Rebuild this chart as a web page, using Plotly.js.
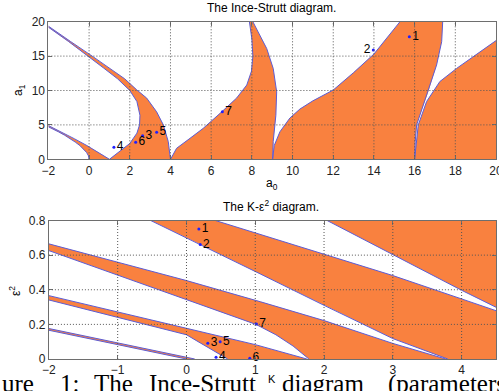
<!DOCTYPE html>
<html>
<head>
<meta charset="utf-8">
<script src="https://cdn.plot.ly/plotly-3.0.1.min.js"></script>
<style>html,body{margin:0;padding:0;background:#fff;}#chart{width:499px;height:391px;}</style>
</head>
<body>
<div id="chart"></div>
<script>
// ---------- TOP: Ince-Strutt diagram (a0 horizontal, a1 vertical) ----------
const topXRange = [-2, 20];
const topYRange = [0, 20];
const topXTicks = [-2, 0, 2, 4, 6, 8, 10, 12, 14, 16, 18, 20];
const topYTicks = [0, 5, 10, 15, 20];

const a0_a = [0, -0.03, -0.125, -0.28, -0.455, -0.68, -0.93, -1.2, -1.51, -1.85, -2.0];
const a0_y = [0, 0.5, 1, 1.5, 2, 2.5, 3, 3.5, 4, 4.5, 4.72];
const b1_a = [1, 0.47, -0.11, -0.73, -1.39, -1.73, -2.0];
const b1_y = [0, 1, 2, 3, 4, 4.5, 4.9];
const a1_a = [1, 1.5, 2.0, 2.35, 2.48, 2.5, 2.35, 2.0, 1.4, 0.7, 0, -1, -2];
const a1_y = [0, 1.1, 2.3, 3.8, 5, 6.4, 8.4, 10.0, 11.7, 13.3, 14.9, 17.1, 19.2];
const b2_a = [4, 3.95, 3.89, 3.65, 3.32, 2.83, 2.34, 1.75, 1.0, 0.2, -0.9, -2];
const b2_y = [0, 1.3, 2.6, 5.0, 6.9, 8.9, 10.1, 11.7, 13.3, 14.9, 17.1, 19.35];
const a2_a = [4, 4.3, 4.96, 5.61, 6.52, 7.25, 7.75, 7.98, 8.05, 8.0, 7.88];
const a2_y = [0, 1.6, 3.05, 4.5, 6.9, 8.9, 10.8, 12.8, 15, 17.5, 20];
const b3_a = [9.02, 9.05, 9.18, 9.22, 9.05, 8.73, 8.31, 8.05];
const b3_y = [0, 2.6, 6.4, 9.8, 13.2, 16.1, 18.5, 20];
const a3_a = [9.02, 9.1, 9.38, 9.87, 10.36, 11.0, 12.0, 13.0, 14.0, 14.65, 15.28];
const a3_y = [0, 2.0, 4.0, 6.0, 7.3, 8.5, 10.07, 12.6, 15.3, 17.6, 20];
const b4_a = [16.0, 16.03, 16.1, 16.26, 16.67, 17.08, 17.33, 17.38];
const b4_y = [0, 2.6, 5.0, 6.4, 9.8, 13.7, 17.1, 20];
const a4_a = [16.0, 16.08, 16.18, 16.59, 17.24, 18.06, 19.05, 20.0];
const a4_y = [0, 2.5, 5.0, 8.4, 11.3, 13.2, 15.2, 17.25];

const topMkX = [15.74, 13.97, 2.63, 1.22, 3.32, 2.29, 6.55];
const topMkY = [17.8, 15.9, 3.43, 1.74, 3.92, 2.47, 6.92];
const topMkLbl = ['1', '2', '3', '4', '5', '6', '7'];
const topMkPos = ['middle right', 'middle left', 'middle right', 'middle right', 'middle right', 'middle right', 'middle right'];

// ---------- BOTTOM: K - eps^2 diagram ----------
const botXRange = [-2, 4.5];
const botYRange = [0, 0.8];
const botXTicks = [-2, -1, 0, 1, 2, 3, 4];
const botYTicks = [0, 0.2, 0.4, 0.6, 0.8];

const La0_k = [-2, 0.0];            const La0_e = [0.166, 0];
const Lb1_k = [-2, 0.12];           const Lb1_e = [0.176, 0];
const L7_k = [-2, -1, 0, 0.2, 0.4, 0.6];  const L7_e = [0.341, 0.242, 0.14, 0.093, 0.047, 0];
const L6_k = [-2, -1, 0, 1, 1.75];        const L6_e = [0.366, 0.271, 0.177, 0.083, 0];
const L5_k = [-2, -1, 0, 0.5, 1.01, 1.3, 1.55, 1.78]; const L5_e = [0.626, 0.486, 0.345, 0.275, 0.2, 0.14, 0.075, 0];
const L4_k = [-2, -1, 0, 1.08, 2, 3, 3.77]; const L4_e = [0.665, 0.559, 0.453, 0.33, 0.222, 0.09, 0];
const L3_k = [-0.52, 0.19, 1.08, 2, 3, 3.8]; const L3_e = [0.8, 0.664, 0.49, 0.31, 0.118, 0];
const L2_k = [0.42, 1, 2, 3, 4, 4.5];     const L2_e = [0.8, 0.729, 0.605, 0.482, 0.347, 0.279];
const L1_k = [2.045, 3, 4, 4.5];          const L1_e = [0.8, 0.602, 0.397, 0.299];

const botMkX = [0.18, 0.2, 0.31, 0.43, 0.49, 0.92, 1.017];
const botMkY = [0.751, 0.661, 0.091, 0.01, 0.1, 0.004, 0.202];
const botMkLbl = ['1', '2', '3', '4', '5', '6', '7'];

// ---------- styling ----------
const ORANGE = '#F9813F';
const EDGE = '#5c5cd4';
const rev = arr => arr.slice().reverse();

function fillTrace(xs, ys, xa, ya) {
  return {type: 'scatter', mode: 'lines', x: xs, y: ys, xaxis: xa, yaxis: ya,
          fill: 'toself', fillcolor: ORANGE, line: {width: 0, color: ORANGE},
          hoverinfo: 'skip', showlegend: false};
}
function lineTrace(xs, ys, xa, ya) {
  return {type: 'scatter', mode: 'lines', x: xs, y: ys, xaxis: xa, yaxis: ya,
          line: {width: 1, color: EDGE}, hoverinfo: 'skip', showlegend: false};
}

const traces = [];
traces.push(fillTrace(a0_a.concat(rev(b1_a)), a0_y.concat(rev(b1_y)), 'x', 'y'));
traces.push(fillTrace(a1_a.concat(rev(b2_a)), a1_y.concat(rev(b2_y)), 'x', 'y'));
traces.push(fillTrace(a2_a.concat(rev(b3_a)), a2_y.concat(rev(b3_y)), 'x', 'y'));
traces.push(fillTrace(a3_a.concat(rev(b4_a)), a3_y.concat(rev(b4_y)), 'x', 'y'));
traces.push(fillTrace(a4_a.concat([topXRange[1]]), a4_y.concat([topYRange[0]]), 'x', 'y'));
[[a0_a,a0_y],[b1_a,b1_y],[a1_a,a1_y],[b2_a,b2_y],[a2_a,a2_y],[b3_a,b3_y],[a3_a,a3_y],[b4_a,b4_y],[a4_a,a4_y]]
  .forEach(p => traces.push(lineTrace(p[0], p[1], 'x', 'y')));
traces.push(fillTrace(La0_k.concat(rev(Lb1_k)), La0_e.concat(rev(Lb1_e)), 'x2', 'y2'));
traces.push(fillTrace(L7_k.concat(rev(L6_k)), L7_e.concat(rev(L6_e)), 'x2', 'y2'));
traces.push(fillTrace(L5_k.concat(rev(L4_k)), L5_e.concat(rev(L4_e)), 'x2', 'y2'));
traces.push(fillTrace(L2_k.concat([botXRange[1]]).concat(rev(L3_k)), L2_e.concat([botYRange[0]]).concat(rev(L3_e)), 'x2', 'y2'));
traces.push(fillTrace(L1_k.concat([botXRange[1]]), L1_e.concat([botYRange[1]]), 'x2', 'y2'));
[[La0_k,La0_e],[Lb1_k,Lb1_e],[L7_k,L7_e],[L6_k,L6_e],[L5_k,L5_e],[L4_k,L4_e],[L3_k,L3_e],[L2_k,L2_e],[L1_k,L1_e]]
  .forEach(p => traces.push(lineTrace(p[0], p[1], 'x2', 'y2')));

const mkFont = {family: 'Arial, Liberation Sans, sans-serif', size: 12, color: '#000'};
traces.push({type: 'scatter', mode: 'markers+text', x: topMkX, y: topMkY, text: topMkLbl,
  textposition: topMkPos, textfont: mkFont, marker: {size: 3, color: '#1f1fff'},
  xaxis: 'x', yaxis: 'y', cliponaxis: false, hoverinfo: 'skip', showlegend: false});
traces.push({type: 'scatter', mode: 'markers+text', x: botMkX, y: botMkY, text: botMkLbl,
  textposition: 'middle right', textfont: mkFont, marker: {size: 3, color: '#1f1fff'},
  xaxis: 'x2', yaxis: 'y2', cliponaxis: false, hoverinfo: 'skip', showlegend: false});

const shapes = [];
const gridLine = {color: '#555', width: 1, dash: '1px,2px'};
function addGrid(xt, yt, xr, yr, xa, ya) {
  xt.filter(v => v > xr[0] && v < xr[1]).forEach(v => shapes.push({type: 'line', xref: xa, yref: ya,
    x0: v, x1: v, y0: yr[0], y1: yr[1], line: gridLine, layer: 'above'}));
  yt.filter(v => v > yr[0] && v < yr[1]).forEach(v => shapes.push({type: 'line', xref: xa, yref: ya,
    x0: xr[0], x1: xr[1], y0: v, y1: v, line: gridLine, layer: 'above'}));
}
addGrid(topXTicks, topYTicks, topXRange, topYRange, 'x', 'y');
addGrid(botXTicks, botYTicks, botXRange, botYRange, 'x2', 'y2');

const W = 499, H = 391;
const px = v => v / W, py = v => 1 - v / H;
const tickFont = {family: 'Arial, Liberation Sans, sans-serif', size: 12, color: '#222'};
const axBase = {showgrid: false, zeroline: false, showline: true, mirror: 'ticks', linecolor: '#6e6e6e',
  linewidth: 1, ticks: 'inside', ticklen: 4, tickcolor: '#6e6e6e', tickfont: tickFont, fixedrange: true,
  ticklabeloverflow: 'allow'};

const txt = (t, x, y, size, extra) => Object.assign({text: t, xref: 'paper', yref: 'paper', x: px(x), y: py(y),
  showarrow: false, xanchor: 'center', yanchor: 'middle',
  font: {family: 'Arial, Liberation Sans, sans-serif', size: size, color: '#000'}}, extra || {});

const capFont = {family: 'Liberation Serif, Times New Roman, serif', size: 25, color: '#000'};
const capWords = ['ure', '1:', 'The', 'Ince-Strutt', 'diagram', '(parameters'];
const capLeft = [0, 58, 92, 147, 280, 386];

const annotations = [
  txt('The Ince-Strutt diagram.', 271, 8, 12),
  txt('a<sub>0</sub>', 272, 184, 12),
  txt('a<sub>1</sub>', 19, 90, 12, {textangle: -90}),
  txt('The K-ε<sup>2</sup> diagram.', 271, 206, 12),
  txt('ε<sup>2</sup>', 15, 291, 12, {textangle: -90})
];
capWords.forEach((w, i) => annotations.push({text: w, xref: 'paper', yref: 'paper', x: px(capLeft[i]), y: py(368),
  xanchor: 'left', yanchor: 'top', showarrow: false, font: capFont}));
annotations.push(txt('K', 272, 379, 11));

const layout = {
  width: W, height: H, autosize: false,
  margin: {l: 0, r: 0, t: 0, b: 0, pad: 0},
  paper_bgcolor: '#fff', plot_bgcolor: '#fff', showlegend: false, hovermode: false,
  xaxis: Object.assign({}, axBase, {domain: [px(48.4), px(496)], range: topXRange, tickvals: topXTicks, anchor: 'y'}),
  yaxis: Object.assign({}, axBase, {domain: [py(159.3), py(21.7)], range: topYRange, tickvals: topYTicks, anchor: 'x'}),
  xaxis2: Object.assign({}, axBase, {domain: [px(48.9), px(496)], range: botXRange, tickvals: botXTicks, anchor: 'y2'}),
  yaxis2: Object.assign({}, axBase, {domain: [py(359), py(220.5)], range: botYRange, tickvals: botYTicks, anchor: 'x2'}),
  shapes: shapes,
  annotations: annotations
};

Plotly.newPlot('chart', traces, layout, {staticPlot: true, displayModeBar: false});
</script>
</body>
</html>
